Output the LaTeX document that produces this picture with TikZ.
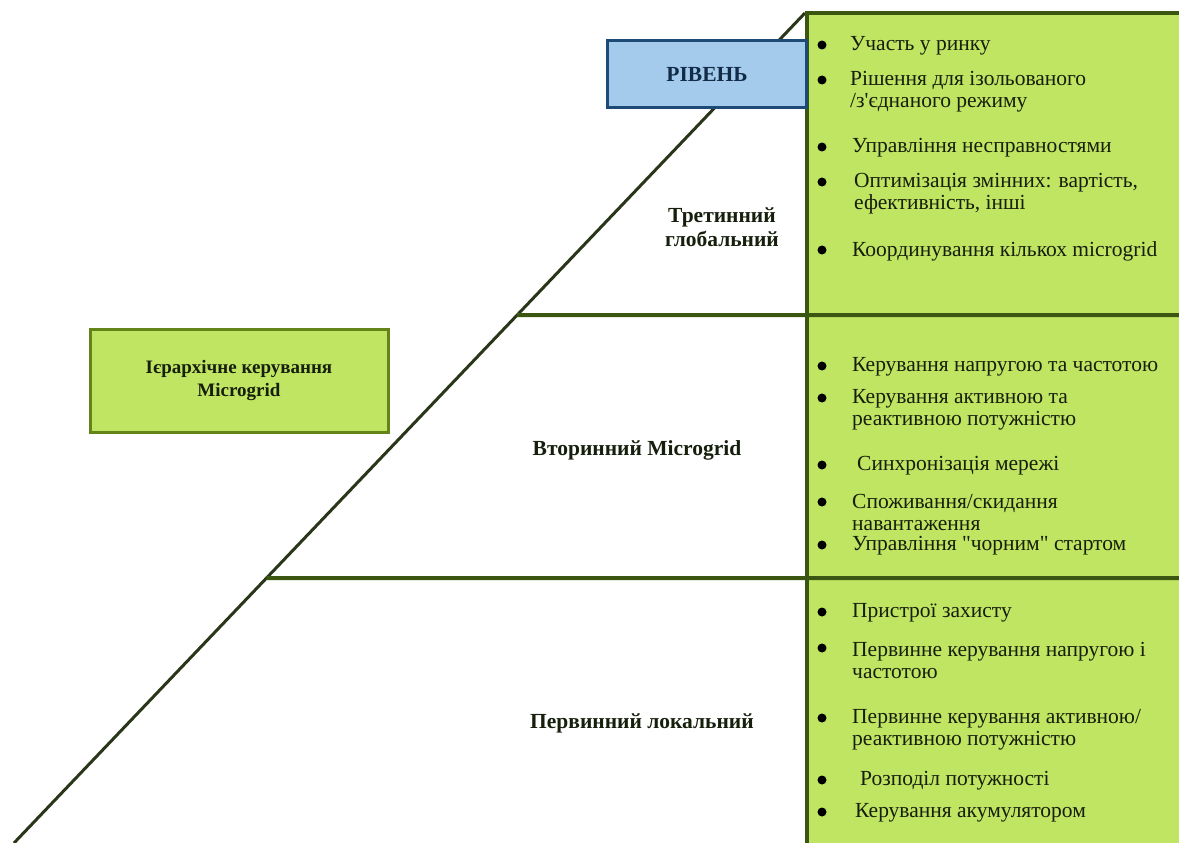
\documentclass[tikz,border=0pt]{standalone}
\usepackage{fontspec}
\setmainfont{Liberation Serif}[Ligatures=TeXOff]
\usetikzlibrary{positioning,calc}
\definecolor{PanelGreen}{RGB}{192,229,98}
\definecolor{EdgeGreen}{RGB}{58,86,16}
\definecolor{BoxEdge}{RGB}{100,132,26}
\definecolor{LineDark}{RGB}{42,54,26}
\definecolor{LevelBlue}{RGB}{164,203,236}
\definecolor{EdgeBlue}{RGB}{30,74,118}
\definecolor{InkDark}{RGB}{22,30,12}

\begin{document}
\begin{tikzpicture}[x=1pt,y=-1pt,
    label/.style={font=\fontsize{21.5}{24}\selectfont\bfseries, text=InkDark, align=center},
    itemtext/.style={font=\fontsize{21.5}{22}\selectfont, text=InkDark, align=left, anchor=west, inner sep=0pt},
    dot/.style={circle, fill=black, inner sep=0pt, minimum size=9pt}]
  \useasboundingbox (0,0) rectangle (1179,843);
  % panel and pyramid
  \fill[PanelGreen] (807,13) rectangle (1179,843);
  \coordinate (apex) at (805,13);
  \coordinate (base) at (14,843);
  \coordinate (cut3) at ($(base)!0.636!(apex)$);
  \coordinate (cut2) at ($(base)!0.319!(apex)$);
  \coordinate (cut3r) at (1179,315);
  \coordinate (cut2r) at (1179,578);
  \draw[LineDark, line width=3pt] (base) -- (apex);
  \draw[EdgeGreen, line width=4pt] (cut3) -- (cut3r);
  \draw[EdgeGreen, line width=4pt] (cut2) -- (cut2r);
  \draw[EdgeGreen, line width=4pt] (807,843) -- (807,13) -- (1179,13);

  \node[draw=EdgeBlue, line width=3pt, fill=LevelBlue, minimum width=199pt, minimum height=67pt,
        label, text=EdgeBlue!60!black] (level) at (707,74) {РІВЕНЬ};
  \node[draw=BoxEdge, line width=3pt, fill=PanelGreen, minimum width=298pt, minimum height=103pt,
        label, font=\fontsize{19}{23}\selectfont\bfseries] (title) at (239,381) {Ієрархічне керування\\Microgrid};

  \node[label] (tertiary) at (722,227) {Третинний\\глобальний};
  \node[label] (secondary) at (637,450) {Вторинний Microgrid};
  \node[label] (primary) at (642,723) {Первинний локальний};

  % bullet items
  \foreach \x/\yb/\yc/\txt [count=\i] in {
      850/45/45/{Участь у ринку},
      850/80/91/{Рішення для ізольованого\\/з'єднаного режиму},
      852/147/147/{Управління несправностями},
      854/182/193/{Оптимізація змінних: вартість,\\ефективність, інші},
      852/250/250/{Координування кількох microgrid},
      852/366/366/{Керування напругою та частотою},
      852/398/409/{Керування активною та\\реактивною потужністю},
      857/465/465/{Синхронізація мережі},
      852/502/511/{Споживання/скидання\\навантаження},
      852/545/545/{Управління "чорним" стартом},
      852/612/612/{Пристрої захисту},
      852/648/659/{Первинне керування напругою і\\частотою},
      852/718/729/{Первинне керування активною/\\реактивною потужністю},
      860/780/780/{Розподіл потужності},
      855/812/812/{Керування акумулятором}} {
    \node[dot] (dot\i) at (822,\yb) {};
    \node[itemtext, yshift=-1pt] (item\i) at (\x,\yc) {\txt};
  }
\end{tikzpicture}
\end{document}
